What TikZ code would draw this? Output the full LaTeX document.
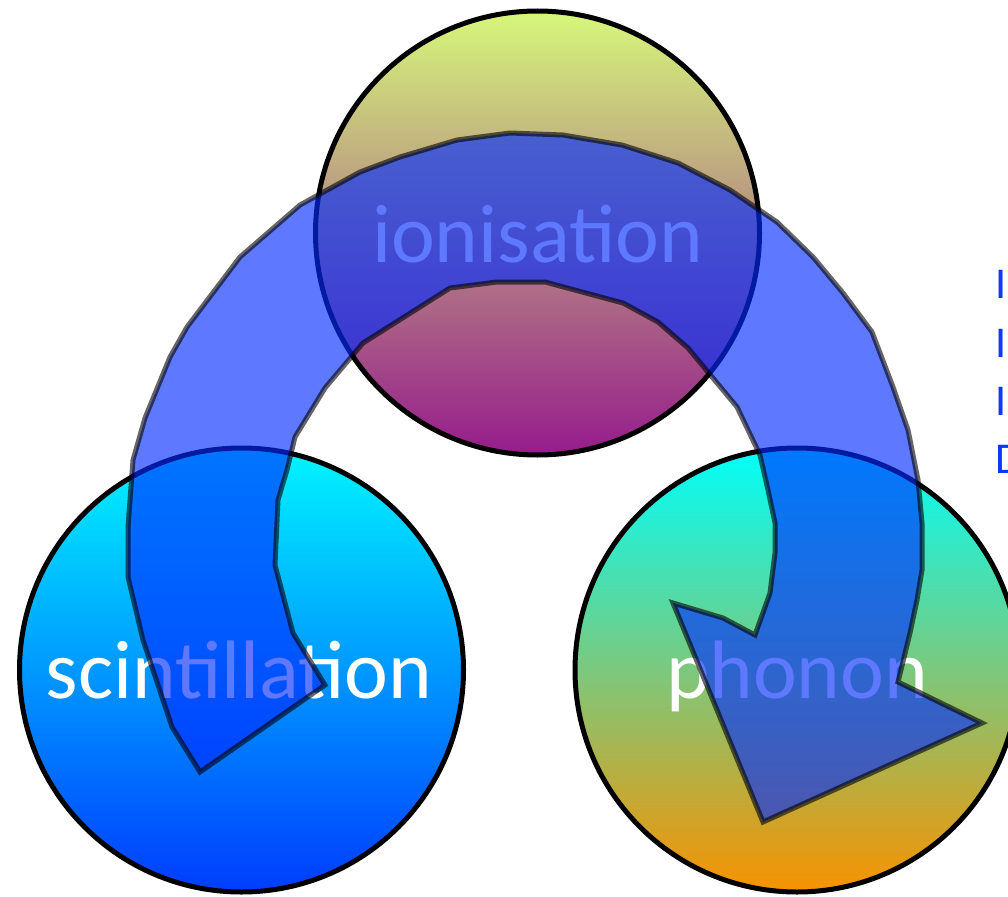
\documentclass[tikz,border=0pt]{standalone}
\usepackage{fontspec}
\setmainfont{Carlito}
\definecolor{flowblue}{RGB}{0,43,255}
\definecolor{noteblue}{RGB}{15,55,255}
\definecolor{ionTop}{RGB}{214,247,122}
\definecolor{ionBot}{RGB}{150,28,140}
\definecolor{sciTop}{RGB}{0,245,255}
\definecolor{sciBot}{RGB}{0,60,255}
\definecolor{phoTop}{RGB}{0,255,250}
\definecolor{phoBot}{RGB}{248,146,0}
\begin{document}
\begin{tikzpicture}[x=1pt,y=-1pt,
  bubble/.style={circle, draw=black, line width=5pt, minimum size=444pt, inner sep=0pt},
  bubbletext/.style={anchor=base, inner sep=0pt, text=white, font=\fontsize{83}{90}\selectfont},
  notetext/.style={anchor=base west, inner sep=0pt, text=noteblue, font=\fontsize{44}{52}\selectfont},
  flow/.style={fill=flowblue, fill opacity=0.63, draw=black, draw opacity=0.6, line width=5pt, line join=miter}]
\useasboundingbox (0,0) rectangle (1008,896);

% the three processes
\node[bubble, top color=ionTop, bottom color=ionBot] (ion) at (537.5,233) {};
\node[bubble, top color=sciTop, bottom color=sciBot] (sci) at (241.5,670) {};
\node[bubble, top color=phoTop, bottom color=phoBot] (pho) at (797,670) {};

\node[bubbletext] (ionlabel) at (537.5,262) {ionisation};
\node[bubbletext] (scilabel) at (239,698) {scintillation};
\node[bubbletext] (pholabel) at (797,698) {phonon};

% side notes
\node[notetext] (n1) at (995,298) {I};
\node[notetext] (n2) at (995,357) {I};
\node[notetext] (n3) at (995,415) {I};
\node[notetext] (n4) at (995,473) {D};

% double-headed energy flow arc
\draw[flow]
  (200,772) -- (172,727) -- (143,640) -- (128,577) -- (128,527) -- (133,460)
  -- (145,418) -- (170,357) -- (187,327) -- (240,257) -- (300,205) -- (360,172)
  -- (400,157) -- (457,140) -- (510,133) -- (563,135) -- (622,145) -- (678,163)
  -- (730,190) -- (777,222) -- (813,257) -- (843,293) -- (872,332) -- (893,387)
  -- (908,430) -- (918,480) -- (922,523) -- (922,570) -- (917,600) -- (910,633)
  -- (898,682) -- (982,723) -- (763,822) -- (673,603) -- (723,618) -- (755,635)
  -- (770,593) -- (775,553) -- (775,523) -- (768,490) -- (760,455) -- (737,407)
  -- (688,348) -- (658,322) -- (623,303) -- (545,282) -- (497,282) -- (450,288)
  -- (363,343) -- (325,388) -- (295,437) -- (287,470) -- (278,500) -- (275,565)
  -- (293,633) -- (325,685) -- cycle;
\end{tikzpicture}
\end{document}
